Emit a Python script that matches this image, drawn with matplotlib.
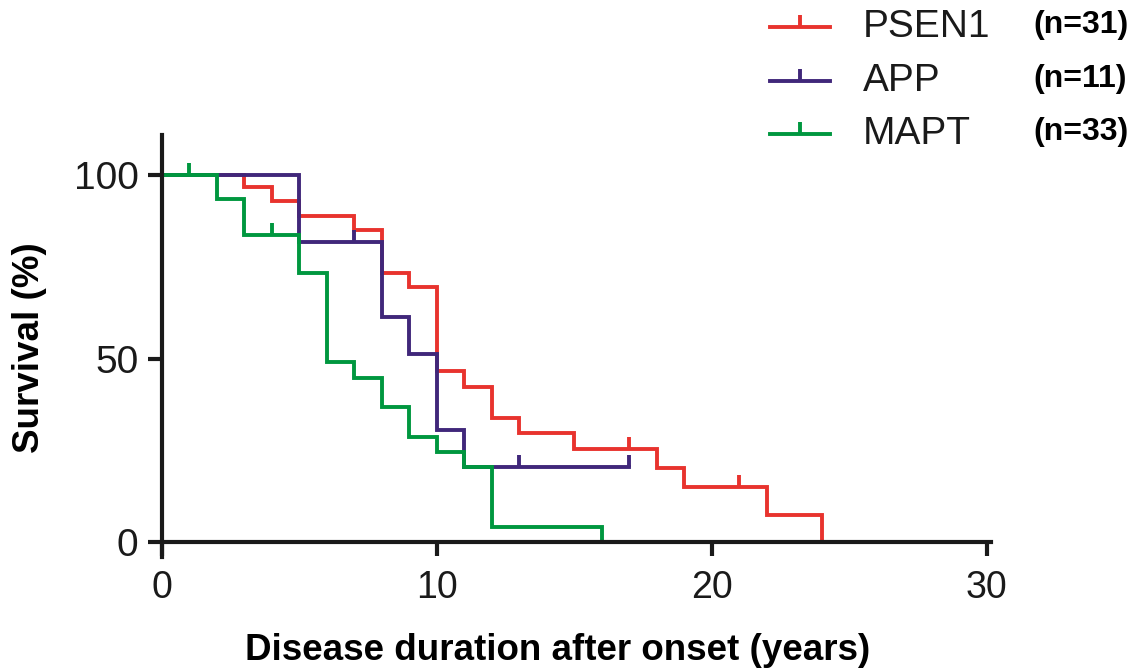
import matplotlib
matplotlib.use("Agg")
import matplotlib.pyplot as plt
from matplotlib.path import Path

plt.rcParams['font.family'] = ['Liberation Sans', 'DejaVu Sans']

# ---- data ----
groups = ["PSEN1", "APP", "MAPT"]
counts = [31, 11, 33]
colors = ["#e8332e", "#40277a", "#00973f"]

psen1_t = [0, 3, 4, 5, 7, 8, 9, 10, 11, 12, 13, 15, 18, 19, 22, 24]
psen1_s = [100, 96.8, 92.9, 88.9, 85.1, 73.4, 69.6, 46.5, 42.3, 33.8, 29.8, 25.4, 20.1, 15.1, 7.4, 0]
psen1_cens_t = [17, 21]
psen1_cens_s = [25.4, 15.1]

app_t = [0, 5, 8, 9, 10, 11, 17]
app_s = [100, 81.8, 61.3, 51.2, 30.6, 20.4, 20.4]
app_cens_t = [7, 13, 17]
app_cens_s = [81.8, 20.4, 20.4]

mapt_t = [0, 2, 3, 5, 6, 7, 8, 9, 10, 11, 12, 16]
mapt_s = [100, 93.5, 83.7, 73.2, 49.1, 44.8, 36.9, 28.5, 24.4, 20.4, 4.1, 0]
mapt_cens_t = [1, 4]
mapt_cens_s = [100, 83.7]

series = [
    (psen1_t, psen1_s, psen1_cens_t, psen1_cens_s),
    (app_t, app_s, app_cens_t, app_cens_s),
    (mapt_t, mapt_s, mapt_cens_t, mapt_cens_s),
]

xticks = [0, 10, 20, 30]
yticks = [0, 50, 100]

W, H = 1146, 671
fig = plt.figure(figsize=(W / 100, H / 100), dpi=100)
ax = fig.add_axes([162 / W, 0.1703, (991 - 162) / W, 0.629])

tick_marker = Path([(0, 0), (0, 1)])
lw = 2.8
for (t, s, ct, cs), c in zip(series, colors):
    ax.step(t, s, where='post', color=c, lw=lw, solid_joinstyle='miter', clip_on=False)
    ax.plot(ct, cs, linestyle='none', marker=tick_marker, markersize=18,
            markeredgewidth=lw, color=c, clip_on=False)

ax.set_xlim(0, 30.15)
ax.set_ylim(-4, 111)
ax.spines['right'].set_visible(False)
ax.spines['top'].set_visible(False)
ax.spines['bottom'].set_position(('data', 0))
for sp in ('left', 'bottom'):
    ax.spines[sp].set_linewidth(3)
    ax.spines[sp].set_color('#1a1a1a')
ax.set_xticks(xticks)
ax.set_yticks(yticks)
ax.tick_params(axis='both', direction='out', length=10, width=3, color='#1a1a1a',
               labelsize=28, labelcolor='#1a1a1a')
ax.tick_params(axis='y', pad=7)
ax.tick_params(axis='x', pad=10)
for lab in ax.get_xticklabels():
    lab.set_family(['Liberation Sans Narrow', 'Liberation Sans', 'DejaVu Sans'])
    lab.set_fontsize(27)

fig.text(558 / W, 1 - 650 / H, "Disease duration after onset (years)", ha='center', va='center',
         fontsize=26.5, fontweight='bold')
fig.text(30 / W, 1 - 348 / H, "Survival (%)", ha='center', va='center', rotation=90,
         fontsize=26.5, fontweight='bold')

# legend drawn manually
rows_y = [27, 81, 134]
for g, n, c, yy in zip(groups, counts, colors, rows_y):
    yf = 1 - yy / H
    fig.add_artist(plt.Line2D([770 / W, 830 / W], [yf, yf], color=c, lw=lw, transform=fig.transFigure))
    fig.add_artist(plt.Line2D([800 / W], [yf], color=c, lw=0, marker=tick_marker, markersize=18,
                              markeredgewidth=lw, transform=fig.transFigure))
    fig.text(863 / W, yf, g, ha='left', va='center', fontsize=28, color='#1a1a1a')
    fig.text(1033 / W, yf + 0.003, f"(n={n})", ha='left', va='center', fontsize=23, fontweight='bold')

fig.savefig("out.png", dpi=100)
